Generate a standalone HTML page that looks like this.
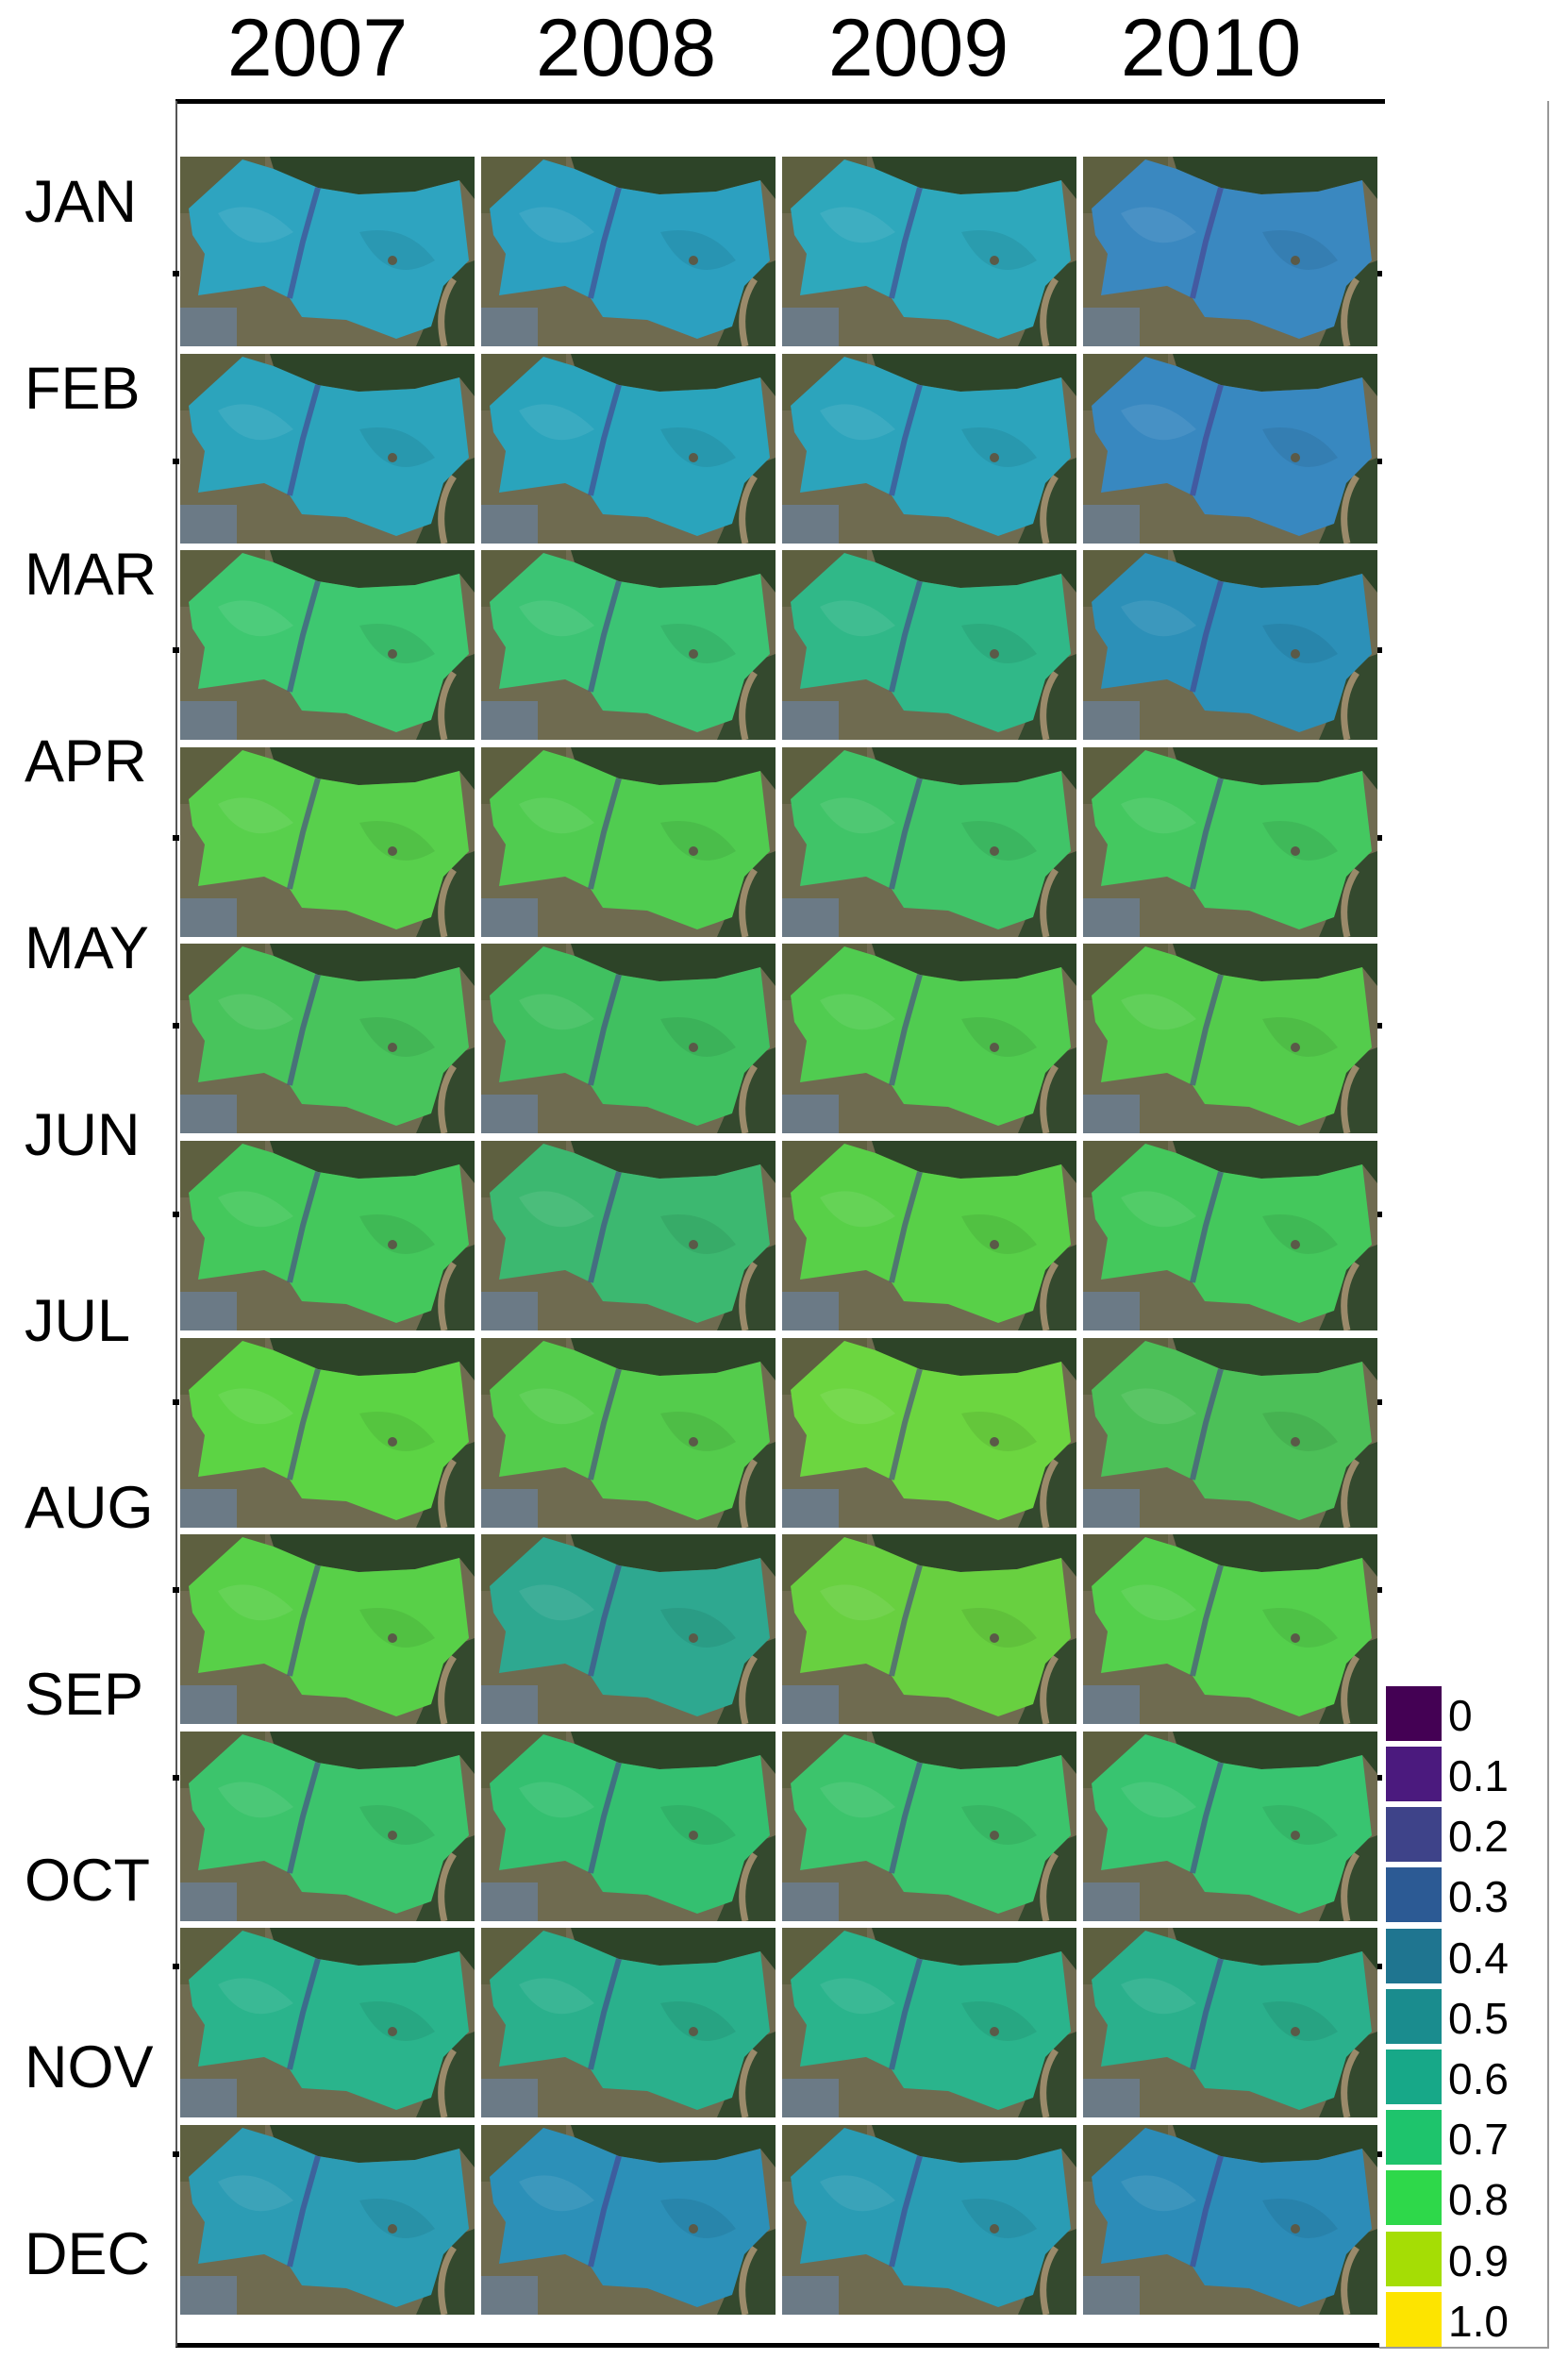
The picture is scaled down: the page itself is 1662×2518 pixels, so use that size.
<!DOCTYPE html>
<html><head><meta charset="utf-8"><style>
html,body{margin:0;padding:0;background:#fff;}
body{width:1662px;height:2518px;position:relative;overflow:hidden;font-family:"Liberation Sans",Arial,sans-serif;}
.yr{position:absolute;top:8px;font-size:86px;line-height:1;color:#000;width:311px;text-align:center;}
.mo{position:absolute;left:26px;font-size:63px;line-height:1;color:#000;}
.p{position:absolute;width:312px;height:201px;}
.sw{position:absolute;left:1469px;width:59px;height:58px;}
.lb{position:absolute;left:1535px;font-size:46px;line-height:1;color:#000;}
.tk{position:absolute;width:7px;height:6px;background:#000;}
</style></head><body>
<svg width="0" height="0" style="position:absolute">
<defs>
<g id="bg">
<rect width="312" height="201" fill="#6f6b50"/>
<rect x="0" y="0" width="90" height="60" fill="#5e6040"/>
<path d="M95 0 L312 0 L312 45 L296 25 L249 37 L189 40 L146 33 L99 13 Z" fill="#2d4428"/>
<rect x="0" y="160" width="60" height="41" fill="#6b7a86"/>
<path d="M285 120 L312 110 L312 201 L250 201 Z" fill="#34492e"/>
<path d="M290 130 Q270 160 280 201" stroke="#9a8a6a" stroke-width="7" fill="none"/>
</g>
<path id="sh" d="M9 55 L66 3 L99 13 L146 33 L189 40 L249 37 L296 25 L306 110 L279 137 L266 180 L229 193 L176 173 L129 170 L116 150 L89 137 L19 147 L26 103 L13 83 Z"/>
<path id="rv" d="M146 33 L130 90 L116 150" stroke-width="6" fill="none"/>
</defs>
</svg>

<div class="yr" style="left:181px">2007</div>
<div class="yr" style="left:508px">2008</div>
<div class="yr" style="left:818px">2009</div>
<div class="yr" style="left:1128px">2010</div>

<div style="position:absolute;left:186px;top:105px;width:1282px;height:5px;background:#000"></div>
<div style="position:absolute;left:186px;top:2483px;width:1276px;height:5px;background:#000"></div>
<div style="position:absolute;left:186px;top:107px;width:2px;height:2380px;background:#555"></div>
<div style="position:absolute;left:1640px;top:107px;width:2px;height:2381px;background:#999"></div>
<div style="position:absolute;left:1462px;top:2487px;width:180px;height:2px;background:#999"></div>

<div id="grid"></div>

<div class="sw" style="top:1787px;background:#440154"></div><div class="lb" style="top:1795px">0</div>
<div class="sw" style="top:1851px;background:#4b1a7e"></div><div class="lb" style="top:1859px">0.1</div>
<div class="sw" style="top:1915px;background:#3e4389"></div><div class="lb" style="top:1923px">0.2</div>
<div class="sw" style="top:1979px;background:#2c5a94"></div><div class="lb" style="top:1987px">0.3</div>
<div class="sw" style="top:2044px;background:#1f7590"></div><div class="lb" style="top:2052px">0.4</div>
<div class="sw" style="top:2108px;background:#1a8c8e"></div><div class="lb" style="top:2116px">0.5</div>
<div class="sw" style="top:2172px;background:#17a888"></div><div class="lb" style="top:2180px">0.6</div>
<div class="sw" style="top:2236px;background:#1ec46c"></div><div class="lb" style="top:2244px">0.7</div>
<div class="sw" style="top:2300px;background:#2ed84a"></div><div class="lb" style="top:2308px">0.8</div>
<div class="sw" style="top:2365px;background:#a5dd05"></div><div class="lb" style="top:2373px">0.9</div>
<div class="sw" style="top:2429px;background:#fde400"></div><div class="lb" style="top:2437px">1.0</div>

<script>
(function(){
var months=["JAN","FEB","MAR","APR","MAY","JUN","JUL","AUG","SEP","OCT","NOV","DEC"];
var cols=[
["#2ea4c0","#2ca0c0","#2ea8bc","#3a88c0"],
["#2ca4bc","#2aa4bc","#2ca4bc","#3888c0"],
["#3ec870","#3cc474","#30b888","#2c90b8"],
["#58d04c","#50cc50","#40c468","#44c860"],
["#48c45c","#40c060","#50cc50","#54cc4c"],
["#44c85c","#3cb870","#58d048","#44c85c"],
["#5cd444","#54cc4c","#6cd640","#4cc058"],
["#58d048","#2ea890","#68d040","#54d04c"],
["#3cc46c","#34c070","#3cc46c","#38c470"],
["#2ab48c","#2ab08c","#2ab48c","#2ab08c"],
["#2c9cb4","#2c90b8","#2a9cb4","#2c8cb8"]];
var h="";
for(var m=0;m<12;m++){
 h+='<div class="mo" style="top:'+Math.round(183+m*197.7)+'px">'+months[m]+'</div>';
}
for(var t=0;t<11;t++){
 var yy=Math.round(287+t*199.3);
 h+='<div class="tk" style="left:183px;top:'+yy+'px"></div>';
 h+='<div class="tk" style="left:1458px;top:'+yy+'px"></div>';
}
for(var r=0;r<11;r++){
 var ty=Math.round(166+r*208.6);
 for(var c=0;c<4;c++){
  var lx=191+c*319;
  var col=cols[r][c];
  h+='<svg class="p" style="left:'+lx+'px;top:'+ty+'px" viewBox="0 0 312 201"><use href="#bg"/><use href="#sh" fill="'+col+'"/><path d="M40 60 Q80 40 120 80 Q70 110 40 60Z" fill="#ffffff" opacity="0.08"/><path d="M190 80 Q240 70 270 110 Q220 140 190 80Z" fill="#000" opacity="0.07"/><use href="#rv" stroke="#4a3c8c" opacity="0.6"/><circle cx="225" cy="110" r="5" fill="#5a5a48"/></svg>';
 }
}
document.getElementById("grid").innerHTML=h;
})();
</script>
</body></html>
